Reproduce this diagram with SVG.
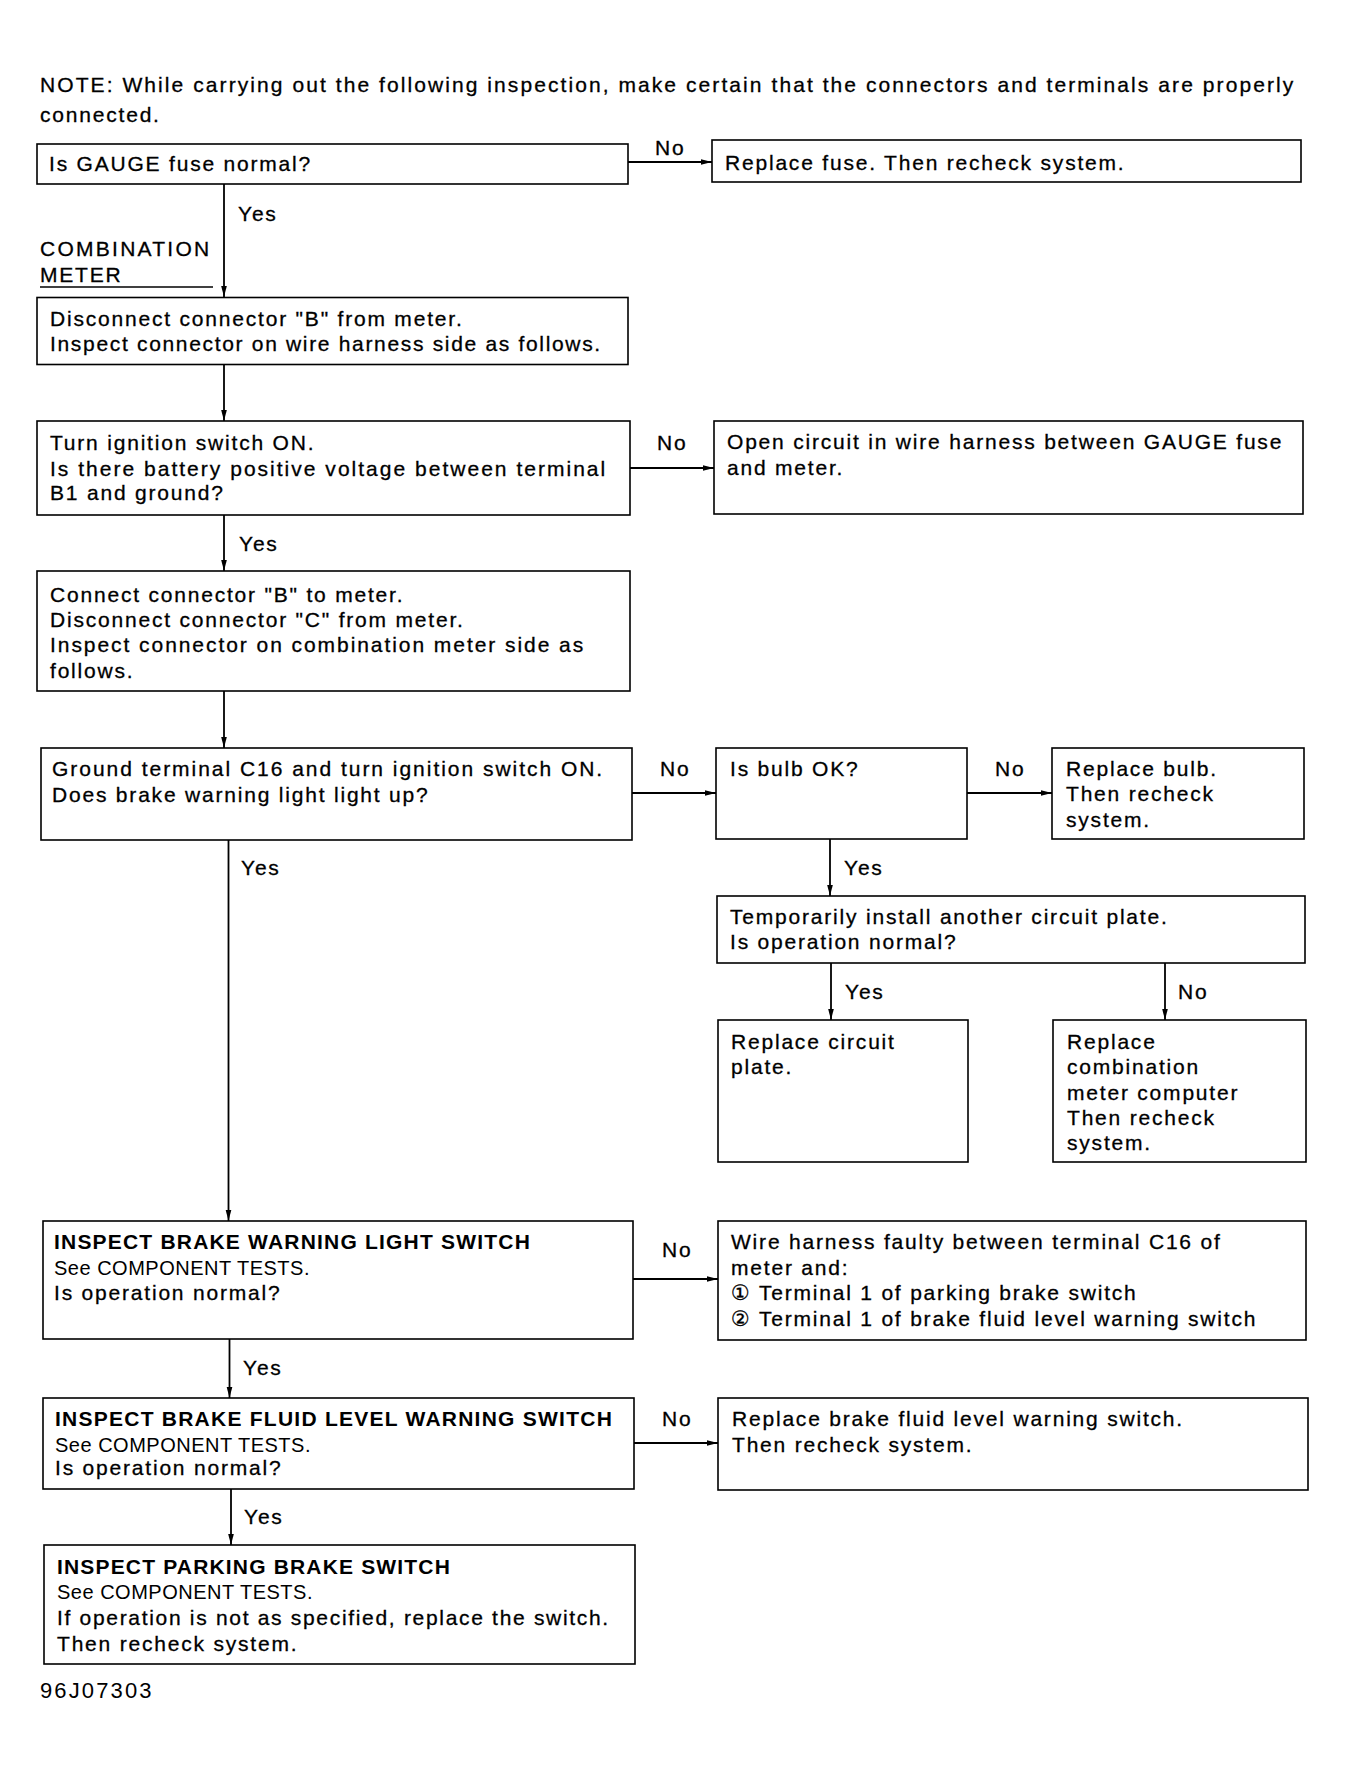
<svg xmlns="http://www.w3.org/2000/svg" width="1345" height="1773" viewBox="0 0 1345 1773">
<style>
.box{fill:none;stroke:#000;stroke-width:1.6}
.t{font-family:"Liberation Sans","DejaVu Sans",Arial,sans-serif;font-size:21px;letter-spacing:1.8px;fill:#000;stroke:#000;stroke-width:0.3}
.b{font-weight:bold;font-size:21px;letter-spacing:1.2px;stroke:none}
.s{font-size:20px;letter-spacing:0.5px;stroke:none}
.c{stroke:#000;stroke-width:1.8;fill:none}
.a{marker-end:url(#ah)}
</style>
<defs>
<marker id="ah" markerWidth="11" markerHeight="8" refX="11" refY="4" orient="auto" markerUnits="userSpaceOnUse"><path d="M0,1.2 L11,4 L0,6.8 z" fill="#000"/></marker>
</defs>
<rect width="1345" height="1773" fill="#fff"/>
<g id="note">
<text class="t" x="40" y="92" textLength="1255" lengthAdjust="spacing">NOTE: While carrying out the following inspection, make certain that the connectors and terminals are properly</text>
<text class="t" x="40" y="122">connected.</text>
</g>
<g id="label-meter">
<text class="t" x="40" y="256" textLength="171" lengthAdjust="spacing">COMBINATION</text>
<text class="t" x="40" y="282">METER</text>
<line x1="40" y1="287" x2="213" y2="287" stroke="#000" stroke-width="1.6"/>
</g>
<g id="connectors">
<line class="c a" x1="628" y1="162" x2="712" y2="162"/>
<text class="t" x="655" y="155">No</text>
<line class="c a" x1="224" y1="184" x2="224" y2="297"/>
<text class="t" x="238" y="221">Yes</text>
<line class="c a" x1="224" y1="364" x2="224" y2="421"/>
<line class="c a" x1="630" y1="468" x2="714" y2="468"/>
<text class="t" x="657" y="450">No</text>
<line class="c a" x1="224" y1="515" x2="224" y2="571"/>
<text class="t" x="239" y="551">Yes</text>
<line class="c a" x1="224" y1="691" x2="224" y2="748"/>
<line class="c a" x1="632" y1="793" x2="716" y2="793"/>
<text class="t" x="660" y="776">No</text>
<line class="c a" x1="967" y1="793" x2="1052" y2="793"/>
<text class="t" x="995" y="776">No</text>
<line class="c a" x1="830" y1="839" x2="830" y2="896"/>
<text class="t" x="844" y="875">Yes</text>
<line class="c a" x1="831" y1="963" x2="831" y2="1020"/>
<text class="t" x="845" y="999">Yes</text>
<line class="c a" x1="1165" y1="963" x2="1165" y2="1020"/>
<text class="t" x="1178" y="999">No</text>
<line class="c a" x1="228.5" y1="840" x2="228.5" y2="1221"/>
<text class="t" x="241" y="875">Yes</text>
<line class="c a" x1="633" y1="1279" x2="718" y2="1279"/>
<text class="t" x="662" y="1257">No</text>
<line class="c a" x1="229.5" y1="1339" x2="229.5" y2="1398"/>
<text class="t" x="243" y="1375">Yes</text>
<line class="c a" x1="634" y1="1443" x2="718" y2="1443"/>
<text class="t" x="662" y="1426">No</text>
<line class="c a" x1="231" y1="1489" x2="231" y2="1545"/>
<text class="t" x="244" y="1524">Yes</text>
</g>
<g id="n-fuse">
<rect class="box" x="37" y="144" width="591" height="40"/>
<text class="t" x="49" y="171">Is GAUGE fuse normal?</text>
</g>
<g id="n-replace-fuse">
<rect class="box" x="712" y="140" width="589" height="42"/>
<text class="t" x="725" y="170">Replace fuse.  Then recheck system.</text>
</g>
<g id="n-disconnect-b">
<rect class="box" x="37" y="297.5" width="591" height="67"/>
<text class="t" x="50" y="326">Disconnect connector "B" from meter.</text>
<text class="t" x="50" y="351" textLength="552" lengthAdjust="spacing">Inspect connector on wire harness side as follows.</text>
</g>
<g id="n-ignition">
<rect class="box" x="37" y="421" width="593" height="94"/>
<text class="t" x="50" y="450">Turn ignition switch ON.</text>
<text class="t" x="50" y="476" textLength="557" lengthAdjust="spacing">Is there battery positive voltage between terminal</text>
<text class="t" x="50" y="500">B1 and ground?</text>
</g>
<g id="n-open-circuit">
<rect class="box" x="714" y="421" width="589" height="93"/>
<text class="t" x="727" y="449">Open circuit in wire harness between GAUGE fuse</text>
<text class="t" x="727" y="475">and meter.</text>
</g>
<g id="n-connect-b">
<rect class="box" x="37" y="571" width="593" height="120"/>
<text class="t" x="50" y="602">Connect connector "B" to meter.</text>
<text class="t" x="50" y="627">Disconnect connector "C" from meter.</text>
<text class="t" x="50" y="652" textLength="535" lengthAdjust="spacing">Inspect connector on combination meter side as</text>
<text class="t" x="50" y="678">follows.</text>
</g>
<g id="n-ground-c16">
<rect class="box" x="41" y="748" width="591" height="92"/>
<text class="t" x="52" y="776" textLength="552" lengthAdjust="spacing">Ground terminal C16 and turn ignition switch ON.</text>
<text class="t" x="52" y="802">Does brake warning light light up?</text>
</g>
<g id="n-bulb">
<rect class="box" x="716" y="748" width="251" height="91"/>
<text class="t" x="730" y="776">Is bulb OK?</text>
</g>
<g id="n-replace-bulb">
<rect class="box" x="1052" y="748" width="252" height="91"/>
<text class="t" x="1066" y="776">Replace bulb.</text>
<text class="t" x="1066" y="801">Then recheck</text>
<text class="t" x="1066" y="827">system.</text>
</g>
<g id="n-circuit-plate">
<rect class="box" x="717" y="896" width="588" height="67"/>
<text class="t" x="730" y="924">Temporarily install another circuit plate.</text>
<text class="t" x="730" y="949">Is operation normal?</text>
</g>
<g id="n-replace-plate">
<rect class="box" x="718" y="1020" width="250" height="142"/>
<text class="t" x="731" y="1049">Replace circuit</text>
<text class="t" x="731" y="1074">plate.</text>
</g>
<g id="n-replace-computer">
<rect class="box" x="1053" y="1020" width="253" height="142"/>
<text class="t" x="1067" y="1049">Replace</text>
<text class="t" x="1067" y="1074">combination</text>
<text class="t" x="1067" y="1100">meter computer</text>
<text class="t" x="1067" y="1125">Then recheck</text>
<text class="t" x="1067" y="1150">system.</text>
</g>
<g id="n-warning-switch">
<rect class="box" x="43" y="1221" width="590" height="118"/>
<text class="t b" x="54" y="1249" textLength="477" lengthAdjust="spacing">INSPECT BRAKE WARNING LIGHT SWITCH</text>
<text class="t s" x="54" y="1275">See COMPONENT TESTS.</text>
<text class="t" x="54" y="1300">Is operation normal?</text>
</g>
<g id="n-harness-faulty">
<rect class="box" x="718" y="1221" width="588" height="119"/>
<text class="t" x="731" y="1249">Wire harness faulty between terminal C16 of</text>
<text class="t" x="731" y="1275">meter and:</text>
<text class="t" x="731" y="1300">① Terminal 1 of parking brake switch</text>
<text class="t" x="731" y="1326">② Terminal 1 of brake fluid level warning switch</text>
</g>
<g id="n-fluid-switch">
<rect class="box" x="43" y="1398" width="591" height="91"/>
<text class="t b" x="55" y="1426" textLength="558" lengthAdjust="spacing">INSPECT BRAKE FLUID LEVEL WARNING SWITCH</text>
<text class="t s" x="55" y="1452">See COMPONENT TESTS.</text>
<text class="t" x="55" y="1475">Is operation normal?</text>
</g>
<g id="n-replace-fluid">
<rect class="box" x="718" y="1398" width="590" height="92"/>
<text class="t" x="732" y="1426">Replace brake fluid level warning switch.</text>
<text class="t" x="732" y="1452">Then recheck system.</text>
</g>
<g id="n-parking-switch">
<rect class="box" x="44" y="1545" width="591" height="119"/>
<text class="t b" x="57" y="1574" textLength="394" lengthAdjust="spacing">INSPECT PARKING BRAKE SWITCH</text>
<text class="t s" x="57" y="1599">See COMPONENT TESTS.</text>
<text class="t" x="57" y="1625" textLength="553" lengthAdjust="spacing">If operation is not as specified, replace the switch.</text>
<text class="t" x="57" y="1651">Then recheck system.</text>
</g>
<g id="footer">
<text class="t" x="40" y="1698" style="font-size:22px;letter-spacing:0.5px;stroke:none" textLength="112" lengthAdjust="spacing">96J07303</text>
</g>
</svg>
